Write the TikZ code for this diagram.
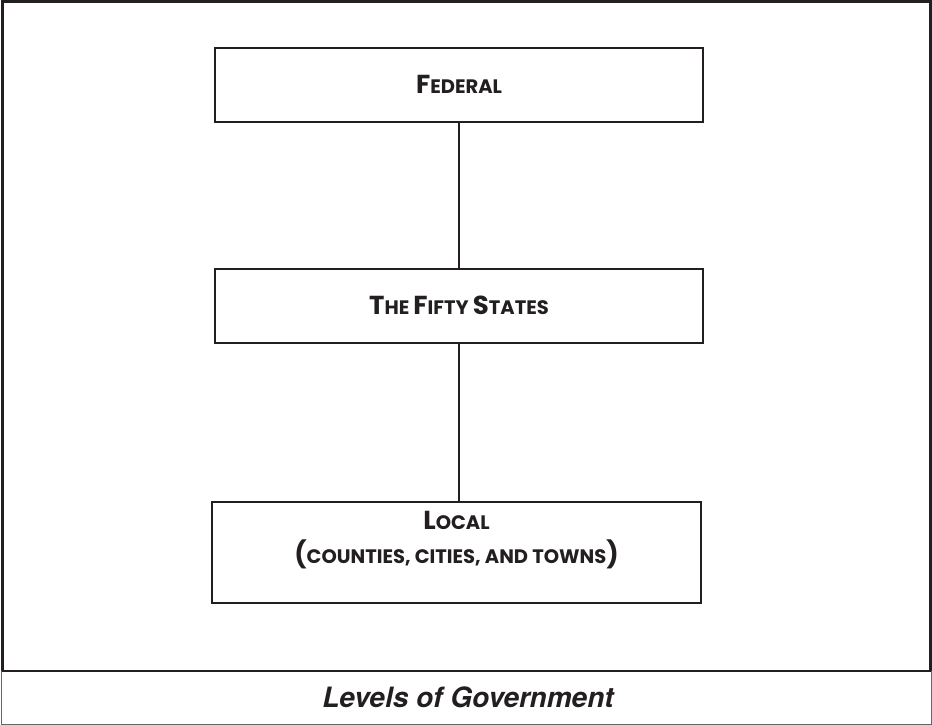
\documentclass[tikz,border=0pt]{standalone}
\usepackage{fontspec}
\newfontfamily\boxfont{Poppins}
\newfontfamily\capfont{TeX Gyre Heros}
\definecolor{ink}{HTML}{231F20}
\newcommand\BigL[1]{{\fontsize{26}{26}\selectfont #1}}
\newcommand\SmL[1]{{\fontsize{19.5}{19.5}\selectfont #1}}
\begin{document}
\begin{tikzpicture}[x=1pt,y=-1pt,
  lvl/.style={draw=ink,line width=1.5pt,fill=white,inner sep=0pt},
  lbl/.style={font=\boxfont\bfseries\fontsize{19.5}{19.5}\selectfont,text=ink,align=center,inner sep=0pt},
  link/.style={draw=ink,line width=2pt}]
\useasboundingbox (0,0) rectangle (932,725);
\draw[ink,line width=2.5pt] (2.5,1.5) rectangle (930.5,671);
\draw[gray!80!black,line width=1pt] (1,671) -- (1,724) -- (931,724) -- (931,671);
\node[lvl,minimum width=488pt,minimum height=74pt] (fed) at (459,85) {};
\node[lbl] (fedtxt) at (459,84) {\BigL{F}\SmL{EDERAL}};
\node[lvl,minimum width=488pt,minimum height=74pt] (states) at (459,306) {};
\node[lbl] (statestxt) at (459,305) {\BigL{T}\SmL{HE} \BigL{F}\SmL{IFTY} \BigL{S}\SmL{TATES}};
\node[lvl,minimum width=489pt,minimum height=101pt] (local) at (456.5,552.5) {};
\node[lbl] (localtxt) at (456.5,540.5)
  {\BigL{L}\SmL{OCAL}\\[9pt]\BigL{(}\SmL{COUNTIES, CITIES, AND TOWNS}\BigL{)}};
\draw[link] (fed.south) -- (states.north);
\draw[link] (states.south) -- (states.south |- local.north);
\node[font=\capfont\bfseries\itshape\fontsize{28}{28}\selectfont,text=ink] (cap) at (468,697) {Levels of Government};
\end{tikzpicture}
\end{document}
